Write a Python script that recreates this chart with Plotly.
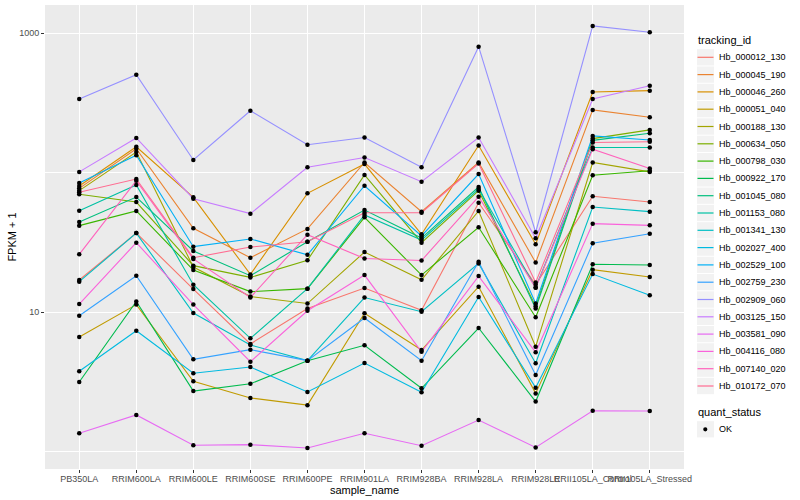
import plotly.graph_objects as go

samples = ["PB350LA", "RRIM600LA", "RRIM600LE", "RRIM600SE", "RRIM600PE",
           "RRIM901LA", "RRIM928BA", "RRIM928LA", "RRIM928LE",
           "RRII105LA_Control", "RRII105LA_Stressed"]

tracking_ids = ["Hb_000012_130", "Hb_000045_190", "Hb_000046_260", "Hb_000051_040",
                "Hb_000188_130", "Hb_000634_050", "Hb_000798_030", "Hb_000922_170",
                "Hb_001045_080", "Hb_001153_080", "Hb_001341_130", "Hb_002027_400",
                "Hb_002529_100", "Hb_002759_230", "Hb_002909_060", "Hb_003125_150",
                "Hb_003581_090", "Hb_004116_080", "Hb_007140_020", "Hb_010172_070"]

colors = ["#F8766D", "#EA8331", "#D89000", "#C09B00", "#A3A500", "#7CAE00", "#39B600",
          "#00BB4E", "#00BF7D", "#00C1A3", "#00BFC4", "#00BAE0", "#00B0F6", "#35A2FF",
          "#9590FF", "#C77CFF", "#E76BF3", "#FA62DB", "#FF62BC", "#FF6C91"]

# FPKM + 1 values, one list per gene, in the order of `samples`
hb_000012_130 = [16.96, 36.8, 14.6, 5.90, 10.6, 14.86, 10.3, 60.7, 15.7, 67.5, 61.4]
hb_000045_190 = [77.0, 148, 39.8, 24.5, 39.4, 118, 52.4, 118, 22.6, 281, 249]
hb_000046_260 = [80.0, 153, 66.4, 18.6, 70.9, 115, 36.1, 156, 30.6, 378, 386]
hb_000051_040 = [6.62, 11.3, 3.19, 2.42, 2.15, 9.79, 5.34, 15.2, 2.61, 20.1, 17.8]
hb_000188_130 = [74.1, 140, 21.0, 12.9, 11.5, 26.9, 17.0, 53.0, 5.64, 118, 101]
hb_000634_050 = [69.8, 61.4, 21.5, 17.7, 23.5, 96.0, 31.4, 74.1, 11.0, 175, 202]
hb_000798_030 = [41.6, 53.0, 20.0, 14.0, 14.7, 47.7, 18.4, 40.5, 9.16, 95.5, 103]
hb_000922_170 = [3.15, 11.9, 2.71, 3.06, 4.48, 5.77, 2.84, 7.68, 2.28, 22.0, 21.7]
hb_001045_080 = [44.2, 66.7, 27.4, 18.2, 31.9, 53.8, 33.9, 78.7, 10.6, 170, 191]
hb_001153_080 = [53.2, 81.4, 15.7, 6.48, 14.7, 49.6, 32.8, 76.1, 15.0, 151, 151]
hb_001341_130 = [16.5, 36.8, 9.83, 5.80, 4.48, 12.7, 10.05, 22.3, 4.29, 56.6, 52.4]
hb_002027_400 = [3.76, 7.34, 3.64, 4.03, 2.67, 4.31, 2.66, 12.8, 2.87, 18.7, 13.2]
hb_002529_100 = [84.1, 133, 29.4, 33.4, 25.7, 80.4, 35.1, 97.5, 11.5, 183, 171]
hb_002759_230 = [9.41, 18.2, 4.58, 5.37, 4.48, 9.06, 4.48, 22.9, 3.53, 31.1, 36.4]
hb_002909_060 = [336, 502, 123, 277, 158, 178, 109, 798, 37.3, 1123, 1012]
hb_003125_150 = [101, 177, 64.9, 50.7, 109, 128, 85.9, 178, 33.8, 336, 419]
hb_003581_090 = [1.35, 1.83, 1.11, 1.12, 1.06, 1.35, 1.10, 1.68, 1.07, 1.96, 1.95]
hb_004116_080 = [11.4, 31.4, 11.3, 4.40, 10.2, 18.4, 5.19, 18.1, 5.14, 43.0, 41.8]
hb_007140_020 = [25.9, 87.3, 24.0, 12.7, 35.8, 24.2, 23.4, 67.1, 14.9, 147, 107]
hb_010172_070 = [72.1, 89.8, 24.5, 29.2, 31.9, 51.5, 51.5, 116, 16.3, 164, 166]

series = [hb_000012_130, hb_000045_190, hb_000046_260, hb_000051_040, hb_000188_130,
          hb_000634_050, hb_000798_030, hb_000922_170, hb_001045_080, hb_001153_080,
          hb_001341_130, hb_002027_400, hb_002529_100, hb_002759_230, hb_002909_060,
          hb_003125_150, hb_003581_090, hb_004116_080, hb_007140_020, hb_010172_070]

quant_status = "OK"

FONT = "Liberation Sans, Arial, sans-serif"
W, H = 800, 500
ML, MR, MT, MB = 45, 116, 5, 31
PW, PH = W - ML - MR, H - MT - MB


def px(x):
    return (x - ML) / PW


def py(y):
    return (H - MB - y) / PH


fig = go.Figure()
for tid, col, vals in zip(tracking_ids, colors, series):
    fig.add_trace(go.Scatter(
        x=samples, y=vals, mode="lines", name=tid,
        line=dict(color=col, width=1.1), showlegend=False, hoverinfo="skip"))

pts_x, pts_y = [], []
for vals in series:
    pts_x.extend(samples)
    pts_y.extend(vals)
fig.add_trace(go.Scatter(
    x=pts_x, y=pts_y, mode="markers", name=quant_status,
    marker=dict(color="black", size=4.5, symbol="circle"),
    showlegend=False, hoverinfo="skip"))

# ggplot-style legends (keys in grey boxes)
shapes, annotations = [], []
KX0, KX1, TX = 697, 714, 716.5
STEP, Y0 = 17.3, 57.3
annotations.append(dict(x=px(696), y=py(40.5), xref="paper", yref="paper",
                        text="tracking_id", showarrow=False, xanchor="left",
                        yanchor="middle", font=dict(size=11, color="black")))
for i, (tid, col) in enumerate(zip(tracking_ids, colors)):
    yc = Y0 + i * STEP
    shapes.append(dict(type="rect", xref="paper", yref="paper",
                       x0=px(KX0), x1=px(KX1), y0=py(yc - STEP / 2 + 0.5),
                       y1=py(yc + STEP / 2 - 0.5), fillcolor="#F2F2F2",
                       line=dict(width=0), layer="above"))
    shapes.append(dict(type="line", xref="paper", yref="paper",
                       x0=px(KX0 + 0.5), x1=px(KX1 - 0.5), y0=py(yc), y1=py(yc),
                       line=dict(color=col, width=1.2), layer="above"))
    annotations.append(dict(x=px(TX), y=py(yc), xref="paper", yref="paper",
                            text=tid, showarrow=False, xanchor="left",
                            yanchor="middle", font=dict(size=9, color="black")))

annotations.append(dict(x=px(696), y=py(412.3), xref="paper", yref="paper",
                        text="quant_status", showarrow=False, xanchor="left",
                        yanchor="middle", font=dict(size=11, color="black")))
yc = 429.3
shapes.append(dict(type="rect", xref="paper", yref="paper",
                   x0=px(KX0), x1=px(KX1), y0=py(yc - 8.1), y1=py(yc + 8.1),
                   fillcolor="#F2F2F2", line=dict(width=0), layer="above"))
shapes.append(dict(type="circle", xref="paper", yref="paper",
                   x0=px(703.2), x1=px(707.4), y0=py(yc - 2.1), y1=py(yc + 2.1),
                   fillcolor="black", line=dict(width=0), layer="above"))
annotations.append(dict(x=px(TX), y=py(yc), xref="paper", yref="paper",
                        text=quant_status, showarrow=False, xanchor="left",
                        yanchor="middle", font=dict(size=9, color="black")))

fig.update_layout(
    width=W, height=H,
    margin=dict(l=ML, r=MR, t=MT, b=MB),
    paper_bgcolor="white", plot_bgcolor="#EBEBEB",
    font=dict(family=FONT, color="black"),
    showlegend=False,
    shapes=shapes, annotations=annotations,
    xaxis=dict(
        type="category", categoryorder="array", categoryarray=samples,
        range=[-0.6, len(samples) - 0.4],
        showgrid=True, gridcolor="white", gridwidth=1.1,
        zeroline=False, showline=False,
        ticks="outside", ticklen=3, tickcolor="#333333", tickwidth=1,
        tickangle=0, tickfont=dict(size=9, color="#4D4D4D"),
        ticklabelstandoff=-2,
        title=dict(text="sample_name", font=dict(size=11, color="black"), standoff=0),
        automargin=False),
    yaxis=dict(
        type="log", range=[-0.1254, 3.2007],
        tickvals=[10, 1000], ticktext=["10", "1000"],
        showgrid=True, gridcolor="white", gridwidth=1.1,
        minor=dict(tickvals=[1, 100], showgrid=True, gridcolor="white", gridwidth=0.5),
        zeroline=False, showline=False,
        ticks="outside", ticklen=3, tickcolor="#333333", tickwidth=1,
        tickfont=dict(size=9, color="#4D4D4D"),
        title=dict(text="FPKM + 1", font=dict(size=11, color="black"), standoff=0),
        automargin=False),
)

fig.write_html("out.html", config={"displayModeBar": False},
               post_script="document.body.style.margin='0';")
